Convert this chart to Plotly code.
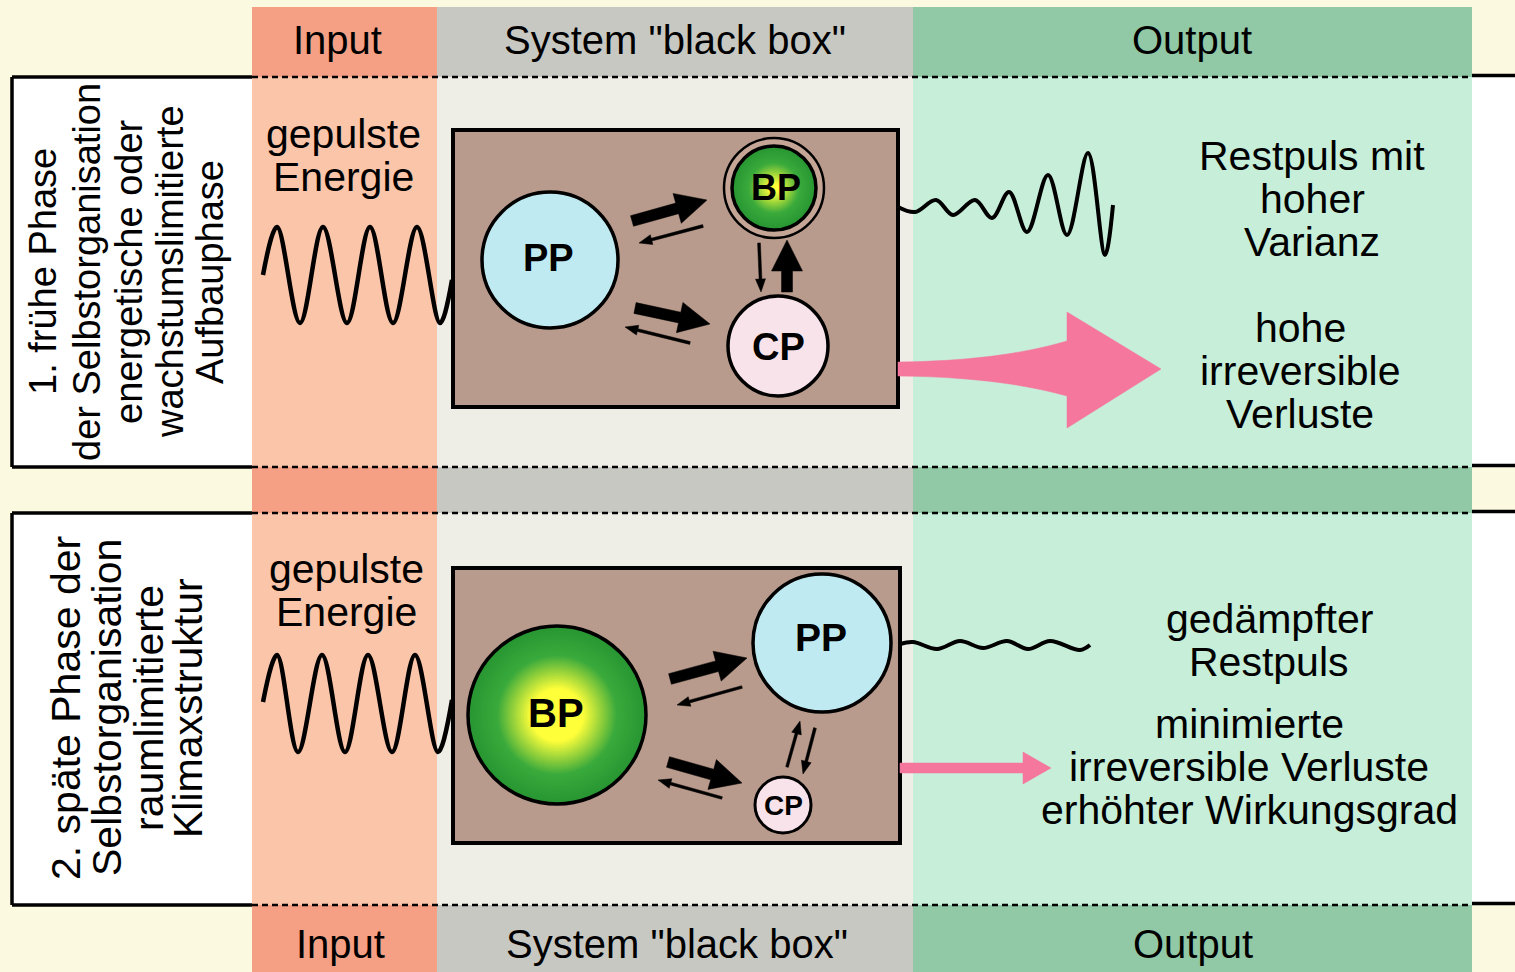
import math
import plotly.graph_objects as go

W, H = 1515, 972

# ---------------- data (texts) ----------------
column_headers = ["Input", 'System "black box"', "Output"]
phase1_lines = ["1. frühe Phase", "der Selbstorganisation", "energetische oder",
                "wachstumslimitierte", "Aufbauphase"]
phase2_lines = ["2. späte Phase der", "Selbstorganisation", "raumlimitierte", "Klimaxstruktur"]
input_lines = ["gepulste", "Energie"]
out1_wave_lines = ["Restpuls mit", "hoher", "Varianz"]
out1_loss_lines = ["hohe", "irreversible", "Verluste"]
out2_wave_lines = ["gedämpfter", "Restpuls"]
out2_loss_lines = ["minimierte", "irreversible Verluste", "erhöhter Wirkungsgrad"]
nodes1 = ["PP", "BP", "CP"]
nodes2 = ["BP", "PP", "CP"]

# ---------------- data (waves, pixel units) ----------------
in1_x = [263, 277, 300, 323, 347, 370, 393, 417, 440, 452]
in1_y = [275, 227, 323, 227, 323, 227, 323, 227, 323, 280]
in2_x = [263, 277, 298, 322, 345, 368, 392, 415, 438, 452]
in2_y = [702, 655, 752, 655, 752, 655, 752, 655, 752, 700]
out1_x = [898, 915, 936, 953, 975, 992, 1009, 1027, 1048, 1067, 1088, 1105, 1113]
out1_y = [207, 212, 200, 215, 200, 218, 192, 232, 175, 235, 153, 255, 205]
out2_x = [900, 913, 937, 960, 983, 1007, 1028, 1050, 1080, 1090]
out2_y = [644, 642, 649, 641, 648, 641, 649, 641, 650, 645]

# ---------------- styling ----------------
FONT = "Liberation Sans, Arial, Helvetica, sans-serif"
CREAM = "#fbf9df"
HEAD_COLORS = ["#f5a084", "#c8c8c3", "#91c8a5"]
PANEL_COLORS = ["#fbc5a9", "#efeee6", "#c6eed9"]
COL_X = [252, 437, 913, 1472]
BOX_FILL = "#b99b8d"
PP_FILL = "#bfeaf1"
CP_FILL = "#f9e3ea"
PINK = "#f5779d"
C_YEL = (255, 255, 58)
C_GRN = (58, 170, 60)
C_DRK = (40, 150, 50)

shapes = []
annotations = []


def rect(x0, y0, x1, y1, fill, lc="rgba(0,0,0,0)", lw=0, layer="below"):
    shapes.append(dict(type="rect", xref="x", yref="y", x0=x0, y0=y0, x1=x1, y1=y1,
                       fillcolor=fill, line=dict(color=lc, width=lw), layer=layer))


def line(x0, y0, x1, y1, lw=3, dash="solid", color="black", layer="below"):
    shapes.append(dict(type="line", xref="x", yref="y", x0=x0, y0=y0, x1=x1, y1=y1,
                       line=dict(color=color, width=lw, dash=dash), layer=layer))


def circle(cx, cy, r, fill, lw=3.5, lc="black", layer="below"):
    shapes.append(dict(type="circle", xref="x", yref="y", x0=cx - r, y0=cy - r,
                       x1=cx + r, y1=cy + r, fillcolor=fill,
                       line=dict(color=lc, width=lw), layer=layer))


def mix(c1, c2, t):
    t = max(0.0, min(1.0, t))
    return "rgb(%d,%d,%d)" % tuple(round(a + (b - a) * t) for a, b in zip(c1, c2))


def bp_node(cx, cy, R, a, b, lw=3.5):
    """green disc with yellow radial core, drawn as fine concentric steps"""
    steps = int(R / 1.5)
    for k in range(steps, 0, -1):
        r = R * k / steps
        f = r / R
        if f > b:
            col = mix(C_GRN, C_DRK, (f - b) / (1 - b))
        else:
            col = mix(C_YEL, C_GRN, (f - a) / (b - a))
        circle(cx, cy, r, col, lw=0, lc="rgba(0,0,0,0)")
    circle(cx, cy, R, "rgba(0,0,0,0)", lw=lw)


def path(d, fill, layer="below"):
    shapes.append(dict(type="path", xref="x", yref="y", path=d, fillcolor=fill,
                       line=dict(color=fill, width=0.5), layer=layer))


def arrow(x0, y0, x1, y1, thick):
    sw, hw, hl = (11, 31, 31) if thick else (2.8, 10, 13)
    dx, dy = x1 - x0, y1 - y0
    L = math.hypot(dx, dy)
    ux, uy = dx / L, dy / L
    px, py = -uy, ux
    bx, by = x1 - ux * hl, y1 - uy * hl
    pts = [(x0 + px * sw / 2, y0 + py * sw / 2), (bx + px * sw / 2, by + py * sw / 2),
           (bx + px * hw / 2, by + py * hw / 2), (x1, y1),
           (bx - px * hw / 2, by - py * hw / 2), (bx - px * sw / 2, by - py * sw / 2),
           (x0 - px * sw / 2, y0 - py * sw / 2)]
    d = "M " + " L ".join(f"{x:.1f},{y:.1f}" for x, y in pts) + " Z"
    path(d, "black")


def text(t, x, y, size=40, angle=0, bold=False):
    annotations.append(dict(text=t, x=x, y=y, xref="x", yref="y", showarrow=False,
                            xanchor="center", yanchor="middle", textangle=angle,
                            font=dict(family=FONT, size=size, color="black",
                                      weight="bold" if bold else "normal")))


# ---------------- background columns ----------------
ROW1 = (77, 467)
ROW2 = (513, 905)
for i in range(3):
    rect(COL_X[i], 7, COL_X[i + 1], H, HEAD_COLORS[i])
    rect(COL_X[i], ROW1[0], COL_X[i + 1], ROW1[1], PANEL_COLORS[i])
    rect(COL_X[i], ROW2[0], COL_X[i + 1], ROW2[1], PANEL_COLORS[i])
for r0, r1 in (ROW1, ROW2):
    rect(12, r0, COL_X[0], r1, "white")
    rect(COL_X[3], r0 - 1, W + 5, r1 - 1, "white")
    for yy in (r0, r1):
        line(12, yy, COL_X[0], yy, lw=3.5)
        line(COL_X[0], yy, COL_X[3], yy, lw=2.5, dash="6px,4px")
        line(COL_X[3], yy - 1.5, W + 5, yy - 1.5, lw=3.5)
    line(12, r0, 12, r1, lw=3.5)

# ---------------- system boxes ----------------
rect(453, 130, 898, 407, BOX_FILL, "black", 4)
rect(453, 568, 900, 843, BOX_FILL, "black", 4)

# panel 1 nodes
circle(550, 260, 68, PP_FILL)
circle(774, 188, 50, "#c4a596", lw=2.5)
bp_node(774, 188, 42, 0.12, 0.62)
circle(778, 346, 50, CP_FILL)
# panel 2 nodes
bp_node(557, 715, 89, 0.30, 0.68)
circle(822, 643, 69, PP_FILL)
circle(783, 805, 28, CP_FILL, lw=3)

# ---------------- black arrows ----------------
arrow(632, 221, 707, 200, True)
arrow(703, 226, 639, 243, False)
arrow(635, 308, 710, 324, True)
arrow(690, 343, 625, 327, False)
arrow(759, 243, 761, 292, False)
arrow(787, 292, 787, 240, True)

arrow(670, 679, 747, 658, True)
arrow(742, 687, 677, 705, False)
arrow(668, 762, 742, 783, True)
arrow(722, 798, 658, 780, False)
arrow(787, 767, 800, 721, False)
arrow(815, 728, 803, 774, False)

# ---------------- pink loss arrows ----------------
path("M 898,362 Q 1000,361 1067,341 L 1067,312 L 1161,369 L 1067,428 L 1067,396 "
     "Q 1000,377 898,376 Z", PINK)
path("M 900,763 L 1023,763 L 1023,752 L 1051,768 L 1023,784 L 1023,773 L 900,773 Z", PINK)

# ---------------- traces ----------------
fig = go.Figure()
for xs, ys, w in ((in1_x, in1_y, 4.5), (in2_x, in2_y, 4.5), (out1_x, out1_y, 4), (out2_x, out2_y, 4)):
    fig.add_trace(go.Scatter(x=xs, y=ys, mode="lines",
                             line=dict(color="black", width=w, shape="spline", smoothing=1.0),
                             hoverinfo="skip", showlegend=False))

# ---------------- texts ----------------
head_x_top = [337, 675, 1192]
head_x_bot = [340, 677, 1193]
for t, xt, xb in zip(column_headers, head_x_top, head_x_bot):
    text(t, xt, 40, 40)
    text(t, xb, 944, 40)

for t, xx in zip(phase1_lines, [43, 87, 129, 170, 210]):
    text(t, xx, 272, 38, angle=-90)
for t, xx in zip(phase2_lines, [66, 107, 149, 188]):
    text(t, xx, 708, 41, angle=-90)

for t, yy in zip(input_lines, [134, 177]):
    text(t, 343, yy, 41)
for t, yy in zip(input_lines, [569, 612]):
    text(t, 346, yy, 41)

for t, yy in zip(out1_wave_lines, [156, 199, 242]):
    text(t, 1312, yy, 41)
for t, yy in zip(out1_loss_lines, [328, 371, 414]):
    text(t, 1300, yy, 41)
for t, yy in zip(out2_wave_lines, [619, 662]):
    text(t, 1269, yy, 41)
for t, yy in zip(out2_loss_lines, [724, 767, 810]):
    text(t, 1249, yy, 41)

for t, (xx, yy, s) in zip(nodes1, [(548, 258, 38), (776, 187, 36), (778, 347, 38)]):
    text(t, xx, yy, s, bold=True)
for t, (xx, yy, s) in zip(nodes2, [(556, 713, 40), (821, 637, 39), (783, 805, 28)]):
    text(t, xx, yy, s, bold=True)

fig.update_layout(
    width=W, height=H, autosize=False,
    margin=dict(l=0, r=0, t=0, b=0, pad=0),
    paper_bgcolor=CREAM, plot_bgcolor=CREAM,
    xaxis=dict(range=[0, W], visible=False, fixedrange=True),
    yaxis=dict(range=[H, 0], visible=False, fixedrange=True),
    shapes=shapes, annotations=annotations,
    showlegend=False,
)

fig.write_html("out.html", config={"displayModeBar": False},
               post_script="document.body.style.margin='0';")
